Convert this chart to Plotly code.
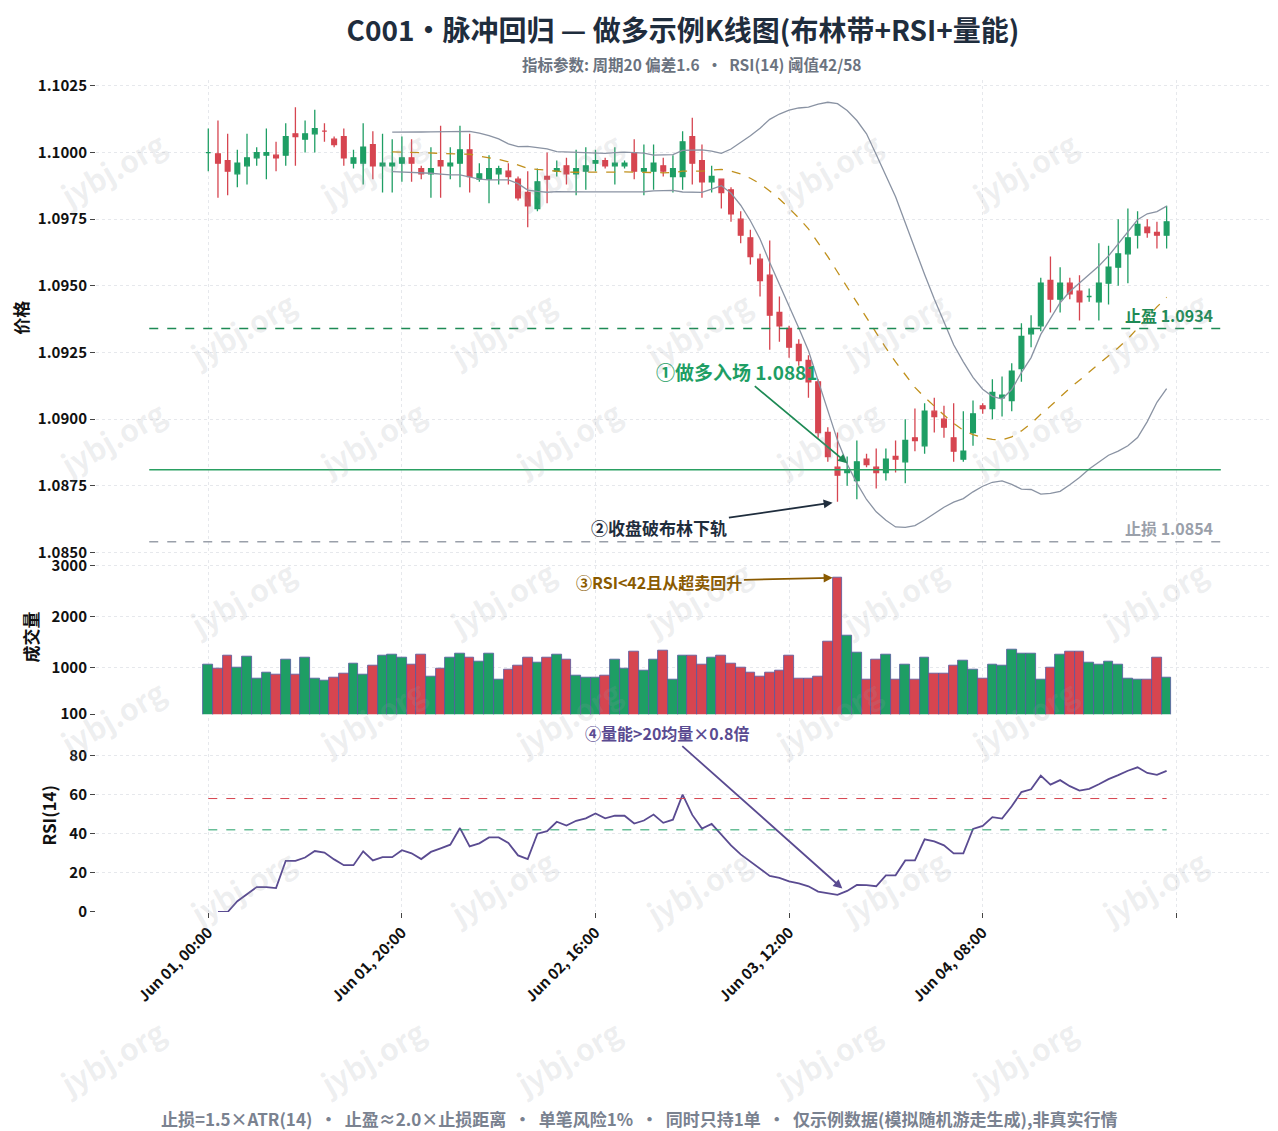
import pandas as pd
import numpy as np
import plotly.graph_objects as go
from plotly.subplots import make_subplots

start = pd.Timestamp("2024-06-01 00:00")
opens = [1.1000,1.09995,1.0997,1.0992,1.0995,1.0998,1.0999,1.0999,1.0999,1.1007,
         1.1005,1.1007,1.1008,1.1005,1.1006,1.0996,1.0996,1.1003,1.0995,1.0995,
         1.0996,1.0998,1.0994,1.0992,1.0997,1.0995,1.0996,1.1001,1.0990,1.0990,
         1.0992,1.0993,1.0990,1.0985,1.0979,1.0991,1.0993,1.0995,1.0992,1.0993,
         1.0996,1.0997,1.0995,1.0995,1.1000,1.0993,1.0993,1.0995,1.0991,1.0991,
         1.1006,1.0997,1.0989,1.0990,1.0986,1.0975,1.0968,1.0960,1.0954,1.0940,
         1.0934,1.0928,1.0922,1.0914,1.0895,1.0882,1.0880,1.0877,1.0885,1.0882,
         1.0880,1.0886,1.0884,1.0893,1.0890,1.0903,1.0900,1.0893,1.0885,1.0895,
         1.0905,1.0904,1.0908,1.0907,1.0919,1.0932,1.0935,1.0952,1.0945,1.0951,
         1.0948,1.0946,1.0944,1.0951,1.0957,1.0962,1.0969,1.0972,1.0970,1.0969]
closes = [1.1000,1.0996,1.0993,1.0996,1.0998,1.1000,1.1000,1.0998,1.1006,1.1006,
          1.1007,1.1009,1.1008,1.1003,1.0998,1.0998,1.1002,1.0995,1.0996,1.0996,
          1.0998,1.0996,1.0992,1.0994,1.0995,1.0996,1.1001,1.0991,1.0992,1.0994,
          1.0994,1.0991,1.0983,1.0980,1.0989,1.0990,1.0994,1.0992,1.0994,1.0995,
          1.0997,1.0995,1.0996,1.0996,1.0993,1.0994,1.0996,1.0993,1.0994,1.1004,
          1.0996,1.0989,1.0991,1.0985,1.0977,1.0969,1.0961,1.0952,1.0939,1.0935,
          1.0927,1.0922,1.0914,1.0895,1.0886,1.0879,1.0881,1.0884,1.0883,1.0880,
          1.0885,1.0885,1.0892,1.0892,1.0903,1.0901,1.0897,1.0888,1.0888,1.0902,
          1.0904,1.0910,1.0909,1.0918,1.0931,1.0934,1.0951,1.0945,1.0951,1.0947,
          1.0944,1.0946,1.0951,1.0957,1.0962,1.0968,1.0973,1.0970,1.0969,1.0974]
highs = [1.1009,1.1012,1.1007,1.1001,1.1007,1.1002,1.1009,1.1004,1.1011,1.1017,
         1.1012,1.1016,1.1011,1.1006,1.1009,1.1001,1.1011,1.1008,1.1007,1.1005,
         1.1006,1.1005,1.0995,1.1002,1.1010,1.1002,1.1010,1.1007,1.0996,1.0999,
         1.0995,1.0996,1.0991,1.0993,1.0994,1.1000,1.0997,1.0998,1.1001,1.1002,
         1.1001,1.0998,1.1002,1.0997,1.1005,1.1003,1.1003,1.0998,1.0999,1.1008,
         1.1013,1.1003,1.0995,1.0990,1.0987,1.0978,1.0971,1.0962,1.0967,1.0946,
         1.0935,1.0930,1.0924,1.0915,1.0897,1.0895,1.0886,1.0892,1.0887,1.0889,
         1.0889,1.0892,1.0900,1.0904,1.0906,1.0908,1.0905,1.0906,1.0903,1.0907,
         1.0906,1.0915,1.0916,1.0921,1.0936,1.0939,1.0953,1.0961,1.0957,1.0953,
         1.0954,1.0949,1.0966,1.0965,1.0975,1.0979,1.0978,1.0975,1.0974,1.0980]
lows = [1.0993,1.0983,1.0984,1.0987,1.0988,1.0995,1.0990,1.0993,1.0995,1.0995,
        1.1000,1.1000,1.1004,1.1002,1.0995,1.0994,1.0988,1.0990,1.0985,1.0985,
        1.0989,1.0989,1.0990,1.0983,1.0983,1.0990,1.0987,1.0985,1.0989,1.0981,
        1.0988,1.0988,1.0982,1.0972,1.0978,1.0981,1.0991,1.0988,1.0984,1.0986,
        1.0993,1.0994,1.0988,1.0994,1.0990,1.0984,1.0986,1.0991,1.0985,1.0986,
        1.0988,1.0983,1.0985,1.0979,1.0974,1.0966,1.0958,1.0946,1.0926,1.0929,
        1.0923,1.0920,1.0908,1.0893,1.0884,1.0869,1.0875,1.0870,1.0882,1.0874,
        1.0877,1.0880,1.0876,1.0888,1.0887,1.0895,1.0893,1.0884,1.0884,1.0890,
        1.0902,1.0900,1.0901,1.0903,1.0914,1.0927,1.0933,1.0940,1.0940,1.0945,
        1.0937,1.0944,1.0937,1.0943,1.0950,1.0951,1.0964,1.0968,1.0964,1.0964]
volumes = [1070,980,1240,1000,1220,800,920,870,1170,870,1200,800,760,810,890,1090,870,1040,1240,1260,
           1200,1060,1260,830,980,1200,1280,1200,1130,1280,780,960,1040,1200,1110,1200,1260,1170,850,810,
           810,850,1170,980,1320,940,1170,1340,780,1240,1240,1070,1200,1240,1090,1000,920,830,920,940,
           1240,800,800,830,1520,2760,1640,1300,780,1170,1260,780,1060,780,1200,890,900,1040,1150,960,
           800,1070,1040,1360,1280,1280,780,1000,1260,1320,1320,1110,1060,1130,1060,800,780,780,1200,810]

ENTRY, TP, SL = 1.0881, 1.0934, 1.0854
BB_N, BB_K, RSI_N = 20, 1.6, 14

def T(h):
    return start + pd.Timedelta(hours=h)

n = len(closes)
times = [T(i) for i in range(n)]
c = pd.Series(closes)
mid = c.rolling(BB_N).mean()
sd = c.rolling(BB_N).std(ddof=0)
up, lo = mid + BB_K*sd, mid - BB_K*sd
d = c.diff()
g = d.clip(lower=0).iloc[1:].ewm(alpha=1/RSI_N, adjust=False).mean()
l = (-d.clip(upper=0)).iloc[1:].ewm(alpha=1/RSI_N, adjust=False).mean()
rsi = 100 - 100/(1 + g/l.replace(0, np.nan))
rsi = rsi.fillna(0)
rsi_t = times[1:]

GREEN, RED = "#1e9e64", "#d64550"
cols = [GREEN if closes[i] >= opens[i] else RED for i in range(n)]
FONT = "Noto Sans CJK SC"

fig = make_subplots(rows=3, cols=1, shared_xaxes=True, vertical_spacing=0.005,
                    row_heights=[0.572, 0.186, 0.233])
fig.add_trace(go.Candlestick(x=times, open=opens, high=highs, low=lows, close=closes,
    increasing=dict(line=dict(color=GREEN, width=1.3), fillcolor=GREEN),
    decreasing=dict(line=dict(color=RED, width=1.3), fillcolor=RED),
    whiskerwidth=0, showlegend=False), row=1, col=1)
fig.add_trace(go.Scatter(x=times, y=up, mode="lines", line=dict(color="#8a93a3", width=1.3), showlegend=False), row=1, col=1)
fig.add_trace(go.Scatter(x=times, y=lo, mode="lines", line=dict(color="#8a93a3", width=1.3), showlegend=False), row=1, col=1)
fig.add_trace(go.Scatter(x=times, y=mid, mode="lines", line=dict(color="#c0901c", width=1.3, dash="dash"), showlegend=False), row=1, col=1)
fig.add_trace(go.Bar(x=times, y=volumes, marker=dict(color=cols, line=dict(color="#5558a0", width=0.8)),
                     showlegend=False, base=0), row=2, col=1)
fig.add_trace(go.Scatter(x=rsi_t, y=rsi, mode="lines", line=dict(color="#5a4b91", width=1.8), showlegend=False), row=3, col=1)

x0, x1 = T(-6.1), T(104.6)
fig.add_shape(type="line", x0=x0, x1=x1, y0=TP, y1=TP, line=dict(color="#1e8a55", width=1.5, dash="dash"), row=1, col=1)
fig.add_shape(type="line", x0=x0, x1=x1, y0=ENTRY, y1=ENTRY, line=dict(color="#2aa062", width=1.5), row=1, col=1)
fig.add_shape(type="line", x0=x0, x1=x1, y0=SL, y1=SL, line=dict(color="#9aa0aa", width=1.5, dash="dash"), row=1, col=1)
fig.add_shape(type="line", x0=T(0), x1=T(n-1), y0=58, y1=58, line=dict(color="#d64550", width=1, dash="dash"), row=3, col=1)
fig.add_shape(type="line", x0=T(0), x1=T(n-1), y0=42, y1=42, line=dict(color="#1e9e64", width=1, dash="dash"), row=3, col=1)

fig.add_annotation(x=T(104.0), y=TP, text="<b>止盈 1.0934</b>", showarrow=False, xanchor="right", yanchor="bottom",
                   font=dict(family=FONT, size=16, color="#1e8a55"), row=1, col=1)
fig.add_annotation(x=T(104.0), y=SL, text="<b>止损 1.0854</b>", showarrow=False, xanchor="right", yanchor="bottom",
                   font=dict(family=FONT, size=16, color="#9aa0aa"), row=1, col=1)
fig.add_annotation(x=T(66), y=1.08835, ax=T(54.6), ay=1.0918, axref="x", ayref="y", text="<b>①做多入场 1.0881</b>",
                   showarrow=True, arrowhead=2, arrowwidth=1.8, arrowcolor="#1e8a55",
                   font=dict(family=FONT, size=19, color="#1e9e64"), row=1, col=1)
fig.add_annotation(x=T(64.5), y=1.08687, ax=T(46.6), ay=1.08593, axref="x", ayref="y", text="<b>②收盘破布林下轨</b>",
                   showarrow=True, arrowhead=2, arrowwidth=1.8, arrowcolor="#1f2d3d",
                   font=dict(family=FONT, size=17, color="#1f2d3d"), row=1, col=1)
fig.add_annotation(x=T(64.5), y=2757, ax=T(46.6), ay=2682, axref="x2", ayref="y2", text="<b>③RSI<42且从超卖回升</b>",
                   showarrow=True, arrowhead=2, arrowwidth=1.8, arrowcolor="#8a5a00",
                   font=dict(family=FONT, size=16, color="#8a5a00"), row=2, col=1)
fig.add_annotation(x=T(65.5), y=12, ax=T(47.4), ay=91.7, axref="x3", ayref="y3", text="<b>④量能>20均量×0.8倍</b>",
                   showarrow=True, arrowhead=2, arrowwidth=1.8, arrowcolor="#5a4b91",
                   font=dict(family=FONT, size=16, color="#5a4b91"), row=3, col=1)

W, H, L, R, TOP, B = 1278, 1131, 88, 10, 72, 227
pw, ph = W - L - R, H - TOP - B
for row, py in enumerate([110, 270, 430, 590, 760, 930, 1100]):
    xs = [40, 300, 560, 820, 1080] if row % 2 == 0 else [170, 430, 690, 950, 1210]
    for px in xs:
        fig.add_annotation(xref="paper", yref="paper", x=(px - L) / pw, y=1 - (py - TOP) / ph,
                           text="<b>jybj.org</b>", showarrow=False, textangle=-30,
                           font=dict(family=FONT, size=30, color="rgba(150,155,165,0.16)"))

fig.add_annotation(xref="paper", yref="paper", x=(631 - L) / pw, y=1 - (1110 - TOP) / ph, yanchor="middle", showarrow=False,
    text="<b>止损=1.5×ATR(14)  ·  止盈≈2.0×止损距离  ·  单笔风险1%  ·  同时只持1单  ·  仅示例数据(模拟随机游走生成),非真实行情</b>",
    font=dict(family=FONT, size=17, color="#7a8290"))
fig.add_annotation(xref="paper", yref="paper", x=(683 - L) / pw, y=1 - (56 - TOP) / ph, yanchor="middle", showarrow=False,
    text="<b>指标参数: 周期20 偏差1.6  ·  RSI(14) 阈值42/58</b>", font=dict(family=FONT, size=15.5, color="#6b7380"))

fig.update_layout(
    width=W, height=H, template="plotly_white", bargap=0,
    margin=dict(l=L, r=R, t=TOP, b=B, autoexpand=False),
    paper_bgcolor="white", plot_bgcolor="white",
    font=dict(family=FONT, color="#1f2d3d"),
    title=dict(text="<b>C001・脉冲回归 — 做多示例K线图(布林带+RSI+量能)</b>",
               x=675 / W, xanchor="center", yref="container", y=1 - 23 / H, yanchor="middle",
               font=dict(size=28, color="#1f2d3d")),
)
grid = dict(showgrid=True, gridcolor="#e6e8ec", griddash="dot", zeroline=False)
tf = dict(size=15, color="#111111", family=FONT, weight="bold")
xr = [T(-11.6), T(110.3)]
tickv = [T(h) for h in range(0, 101, 20)]
tickt = [t.strftime("%b %d, %H:%M") for t in tickv[:-1]] + [""]
for r in (1, 2, 3):
    fig.update_xaxes(range=xr, rangeslider_visible=False, row=r, col=1, tickvals=tickv, ticktext=tickt, **grid,
                     tickangle=-45, ticks="outside", ticklen=5, tickcolor="#444", automargin=False,
                     tickfont=tf, showline=False)
fig.update_xaxes(showticklabels=False, ticks="", row=1, col=1)
fig.update_xaxes(showticklabels=False, ticks="", row=2, col=1)
ya = dict(automargin=False, ticks="outside", ticklen=5, tickfont=tf, **grid)
fig.update_yaxes(range=[1.08489, 1.10272], tickvals=[1.085, 1.0875, 1.09, 1.0925, 1.095, 1.0975, 1.1, 1.1025],
                 tickformat=".4f", title=dict(text="<b>价格</b>", font=dict(size=17, color="#111"), standoff=8), row=1, col=1, **ya)
fig.update_yaxes(range=[100, 3112], tickvals=[100, 1000, 2000, 3000], title=dict(text="<b>成交量</b>", font=dict(size=17, color="#111"), standoff=8),
                 row=2, col=1, **ya)
fig.update_yaxes(range=[0, 99], tickvals=[0, 20, 40, 60, 80], title=dict(text="<b>RSI(14)</b>", font=dict(size=17, color="#111"), standoff=8),
                 row=3, col=1, **ya)
fig.write_html("out.html")
